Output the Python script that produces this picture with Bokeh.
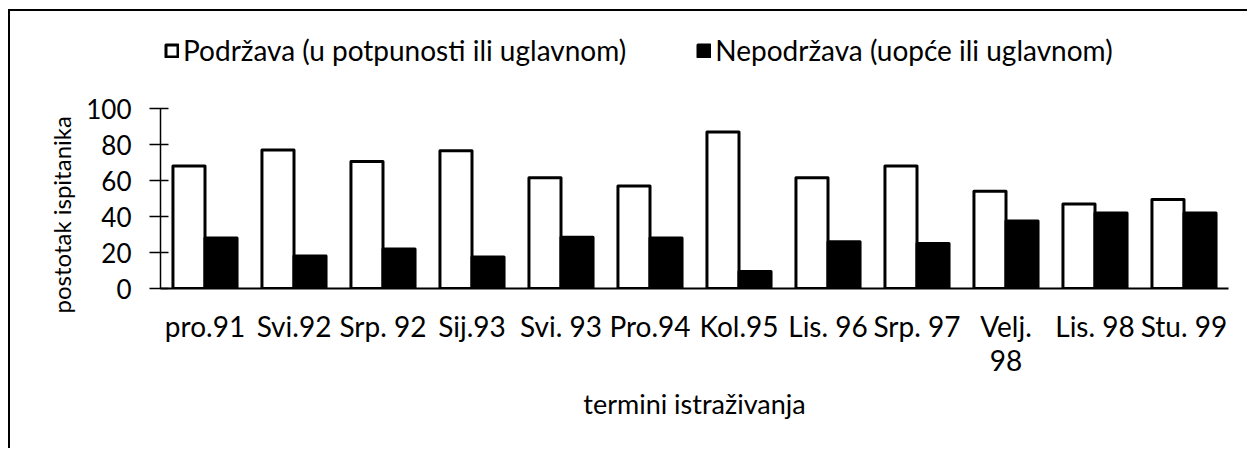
from bokeh.plotting import figure
from bokeh.models import FactorRange, Range1d, Legend, LegendItem, ColumnDataSource, FixedTicker, Title
from bokeh.transform import dodge
from bokeh.embed import file_html
from bokeh.resources import INLINE

categories = ["pro.91", "Svi.92", "Srp. 92", "Sij.93", "Svi. 93", "Pro.94",
              "Kol.95", "Lis. 96", "Srp. 97", "Velj.\n98", "Lis. 98", "Stu. 99"]
podrzava = [68, 77, 70.5, 76.5, 61.5, 57, 87, 61.5, 68, 54, 47, 49.5]
nepodrzava = [28, 18, 22, 17.5, 28.5, 28, 9.5, 26, 25, 37.5, 42, 42]
series_names = ["Podržava (u potpunosti ili uglavnom)", "Nepodržava (uopće ili uglavnom)"]
y_ticks = [0, 20, 40, 60, 80, 100]
y_title = "postotak ispitanika"
x_title = "termini istraživanja"

FONT = "Lato"

src = ColumnDataSource(dict(x=categories, a=podrzava, b=nepodrzava))

# frame spans 268 px; value 100 sits 180 px above the baseline
y_top = 100 * 268 / 180

p = figure(width=1239, height=439, x_range=FactorRange(*categories, range_padding=0),
           y_range=Range1d(0, y_top), output_backend="svg", toolbar_location=None,
           min_border_left=150, min_border_right=21, min_border_top=9, min_border_bottom=162,
           styles={"margin-left": "8px", "margin-top": "9px",
                   "border-left": "2px solid black", "border-top": "2px solid black"})
p.outline_line_color = None
p.xgrid.grid_line_color = None
p.ygrid.grid_line_color = None

r1 = p.vbar(x=dodge("x", -0.18, range=p.x_range), top="a", width=0.36, source=src,
            fill_color="white", line_color="black", line_width=3, line_join="round")
r2 = p.vbar(x=dodge("x", 0.18, range=p.x_range), top="b", width=0.36, source=src,
            fill_color="black", line_color="black", line_width=3, line_join="round")

# axes
p.yaxis.bounds = (0, 100)
p.yaxis.ticker = FixedTicker(ticks=y_ticks)
p.yaxis.minor_tick_line_color = None
p.yaxis.major_tick_out = 11
p.yaxis.major_tick_in = 8
p.yaxis.major_tick_line_width = 1.5
p.yaxis.axis_line_width = 1.5
p.yaxis.major_label_standoff = 18
p.yaxis.major_label_text_font = FONT
p.yaxis.major_label_text_font_size = "26px"
p.yaxis.major_label_text_color = "black"

ytitle = Title(text=y_title, align="left", offset=-25, text_font=FONT,
               text_font_size="24px", text_font_style="normal", text_color="black")
try:
    ytitle.standoff = 15
except AttributeError:
    pass
p.add_layout(ytitle, "left")

p.xaxis.major_tick_line_color = None
p.xaxis.minor_tick_line_color = None
p.xaxis.axis_line_width = 2
p.xaxis.major_label_standoff = 14
p.xaxis.major_label_text_font = FONT
p.xaxis.major_label_text_font_size = "28px"
p.xaxis.major_label_text_line_height = 1.0
p.xaxis.major_label_text_color = "black"
p.xaxis.axis_label = x_title
p.xaxis.axis_label_text_font = FONT
p.xaxis.axis_label_text_font_size = "27px"
p.xaxis.axis_label_text_font_style = "normal"
p.xaxis.axis_label_text_color = "black"
p.xaxis.axis_label_standoff = 7

legend = Legend(items=[LegendItem(label=series_names[0], renderers=[r1]),
                       LegendItem(label=series_names[1], renderers=[r2])],
                orientation="horizontal", location=(4, 221),
                glyph_width=15, glyph_height=15, spacing=70, label_standoff=4,
                padding=0, margin=0, border_line_color=None, background_fill_alpha=0,
                label_text_font=FONT, label_text_font_size="28px", label_text_color="black")
p.add_layout(legend, "center")

open("out.html", "w").write(file_html(p, INLINE))
